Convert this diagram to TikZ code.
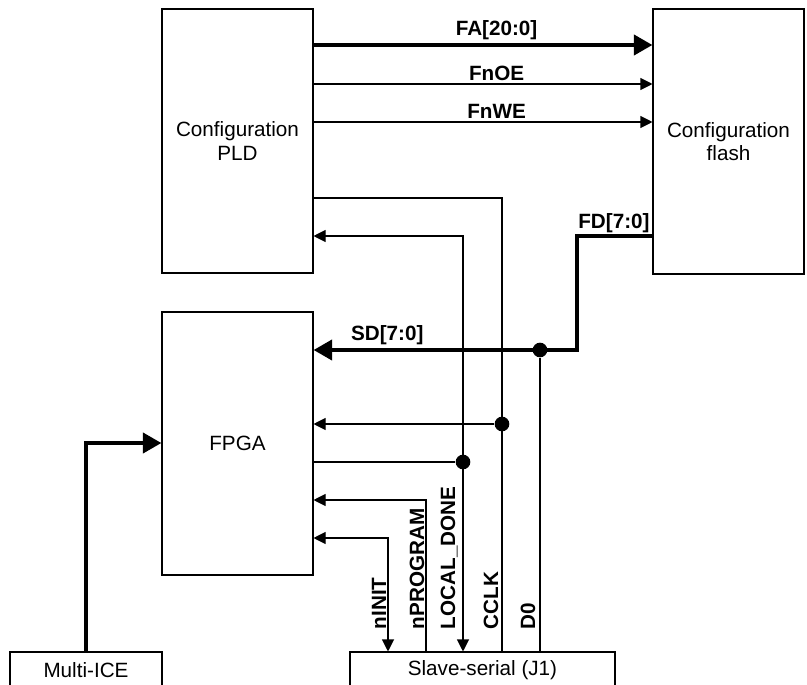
\documentclass[tikz,border=0pt]{standalone}
\usepackage{fontspec}
\setmainfont{Liberation Sans}
\usetikzlibrary{arrows.meta}
\tikzset{
  box/.style={
    rectangle, draw=black, line width=0.8pt, fill=white,
    align=center, inner sep=0pt,
    font=\fontsize{15.5}{17.5}\selectfont
  },
  sig/.style={draw=black, line width=0.8pt, >={Triangle[length=9pt,width=9pt]}},
  bus/.style={draw=black, line width=3.2pt, >={Triangle[length=14pt,width=15pt]}},
  lbl/.style={inner sep=2pt, font=\fontsize{15.5}{17.5}\selectfont\bfseries},
  vlbl/.style={lbl, rotate=90, anchor=base west},
  dot/.style={circle, fill=black, inner sep=0pt, minimum size=11pt}
}

\begin{document}
\begin{tikzpicture}[x=0.75pt, y=-0.75pt]
  \useasboundingbox (0,0) rectangle (807,685);
  \clip (0,0) rectangle (807,685);

  % blocks
  \node[box, minimum width=113.25pt, minimum height=198pt] (pld) at (237.5,141) {Configuration\\PLD};
  \node[box, minimum width=113.25pt, minimum height=198.75pt] (flash) at (728.5,141.5) {Configuration\\flash};
  \node[box, minimum width=113.25pt, minimum height=197.25pt] (fpga) at (237.5,443.5) {FPGA};
  \node[box, minimum width=114pt, minimum height=27pt] (ice) at (86,670) {Multi-ICE};
  \node[box, minimum width=198.75pt, minimum height=27pt] (j1) at (482.5,670) {Slave-serial (J1)};

  % rows and columns of the wiring
  \coordinate (rFA) at (0,45);
  \coordinate (rOE) at (0,84);
  \coordinate (rWE) at (0,122);
  \coordinate (rCK) at (0,198);
  \coordinate (rFD) at (0,236);
  \coordinate (rSD) at (0,350);
  \coordinate (rICE) at (0,443);
  \coordinate (rCC) at (0,424);
  \coordinate (rLD) at (0,462);
  \coordinate (rPR) at (0,500);
  \coordinate (rIN) at (0,538);
  \coordinate (cINIT) at (388,0);
  \coordinate (cPROG) at (426,0);
  \coordinate (cDONE) at (463,0);
  \coordinate (cCCLK) at (502,0);
  \coordinate (cD0) at (540,0);
  \coordinate (cFD) at (577,0);

  % PLD to flash
  \draw[bus,->] (pld.east |- rFA) -- node[lbl, above, pos=0.54] {FA[20:0]} (flash.west |- rFA);
  \draw[sig,->] (pld.east |- rOE) -- node[lbl, above, pos=0.54] {FnOE} (flash.west |- rOE);
  \draw[sig,->] (pld.east |- rWE) -- node[lbl, above, pos=0.54] {FnWE} (flash.west |- rWE);

  % flash data to FPGA
  \draw[bus,->] (flash.west |- rFD) -| (cFD |- rSD) -- node[lbl, above, pos=0.72] {SD[7:0]} (fpga.east |- rSD);
  \node[lbl, anchor=south east] (fdlbl) at (flash.west |- rFD) {FD[7:0]};
  \node[dot] (jD0) at (cD0 |- rSD) {};
  \draw[sig] (jD0) -- (cD0 |- j1.north);

  % configuration control
  \draw[sig] (pld.east |- rCK) -| (cCCLK |- j1.north);
  \draw[sig,<->] (pld.east |- rFD) -| (cDONE |- j1.north);
  \node[dot] (jCC) at (cCCLK |- rCC) {};
  \draw[sig,->] (jCC) -- (fpga.east |- rCC);
  \node[dot] (jLD) at (cDONE |- rLD) {};
  \draw[sig] (fpga.east |- rLD) -- (jLD);
  \draw[sig,->] (cPROG |- j1.north) |- (fpga.east |- rPR);
  \draw[sig,<->] (fpga.east |- rIN) -| (cINIT |- j1.north);

  % debug
  \draw[bus,->] (ice.north) |- (fpga.west |- rICE);

  % pin names
  \node[vlbl] (lINIT) at (386,632) {nINIT};
  \node[vlbl] (lPROG) at (424,632) {nPROGRAM};
  \node[vlbl] (lDONE) at (455,632) {LOCAL\_DONE};
  \node[vlbl] (lCCLK) at (498,632) {CCLK};
  \node[vlbl] (lD0) at (535,632) {D0};
\end{tikzpicture}
\end{document}
